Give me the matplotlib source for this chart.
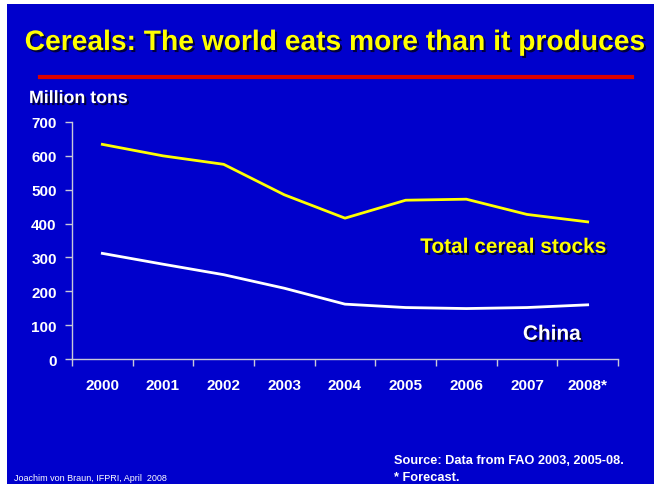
import numpy as np
import matplotlib.pyplot as plt
import matplotlib.patheffects as pe
from matplotlib.patches import Rectangle

years = ['2000', '2001', '2002', '2003', '2004', '2005', '2006', '2007', '2008*']
total_stocks = [634, 600, 575, 485, 416, 469, 472, 427, 405]
china = [312, 280, 249, 209, 162, 152, 149, 152, 160]
yticks = [0, 100, 200, 300, 400, 500, 600, 700]

bg = '#0000CC'
axcol = '#C8C8D8'
plt.rcParams['font.family'] = ['Liberation Sans', 'DejaVu Sans']

fig = plt.figure(figsize=(6.54, 4.85), dpi=100)
fig.patch.set_facecolor(bg)
# small white margin at top and left of the slide
fig.patches.append(Rectangle((0, 1 - 5/485), 1, 5/485, transform=fig.transFigure,
                             facecolor='white', edgecolor='none'))
fig.patches.append(Rectangle((0, 0), 7/654, 1, transform=fig.transFigure,
                             facecolor='white', edgecolor='none'))

shadow = [pe.withSimplePatchShadow(offset=(1.5, -1.5), shadow_rgbFace='black', alpha=0.7)]

fig.text(335.5/654, 1 - 44/485, 'Cereals: The world eats more than it produces', color='#FFFF00',
         fontsize=20.3, fontweight='bold', ha='center', va='center', path_effects=shadow)
fig.add_artist(plt.Line2D([40/654, 632/654], [1 - 78/485, 1 - 78/485], color='#DD0000', lw=3,
                          transform=fig.transFigure))

ax = fig.add_axes([72/654, 1 - 360/485, 546/654, 237/485])
ax.set_facecolor('none')
x = np.arange(len(years))
ax.plot(x, total_stocks, color='#FFFF00', lw=2)
ax.plot(x, china, color='white', lw=2)

ax.set_xlim(-0.5, len(years) - 0.5)
ax.set_ylim(0, 700)
ax.set_yticks(yticks)
ax.set_yticklabels([str(v) for v in yticks])
ax.set_xticks(np.arange(-0.5, len(years), 1))
ax.set_xticklabels([])
ax.set_xticks(x, minor=True)
ax.set_xticklabels(years, minor=True)
ax.tick_params(axis='x', which='major', length=5, color=axcol, width=1)
ax.tick_params(axis='x', which='minor', length=0, pad=14)
ax.tick_params(axis='y', length=5, color=axcol, width=1, pad=6)
for lab in ax.get_xticklabels(minor=True) + ax.get_yticklabels():
    lab.set_color('white')
    lab.set_fontweight('bold')
    lab.set_fontsize(11)
for s in ['top', 'right']:
    ax.spines[s].set_visible(False)
for s in ['left', 'bottom']:
    ax.spines[s].set_color(axcol)
    ax.spines[s].set_linewidth(1)

fig.text(29/654, 1 - 99.5/485, 'Million tons', color='white', fontsize=12.8, fontweight='bold',
         ha='left', va='center', path_effects=shadow)
ax.text(5.24, 330, 'Total cereal stocks', color='#FFFF00', fontsize=15, fontweight='bold',
        ha='left', va='center', path_effects=shadow)
ax.text(7.41, 73, 'China', color='white', fontsize=15, fontweight='bold',
        ha='center', va='center', path_effects=shadow)

fig.text(394/654, 1 - 461/485, 'Source: Data from FAO 2003, 2005-08.', color='white',
         fontsize=9.2, fontweight='bold', ha='left', va='center')
fig.text(394/654, 1 - 478/485, '* Forecast.', color='white',
         fontsize=9.2, fontweight='bold', ha='left', va='center')
fig.text(14/654, 1 - 479/485, 'Joachim von Braun, IFPRI, April  2008', color='white',
         fontsize=6.5, family=['Liberation Sans Narrow', 'Liberation Sans', 'DejaVu Sans'],
         ha='left', va='center')

fig.savefig('out.png', dpi=100, facecolor=fig.get_facecolor())
